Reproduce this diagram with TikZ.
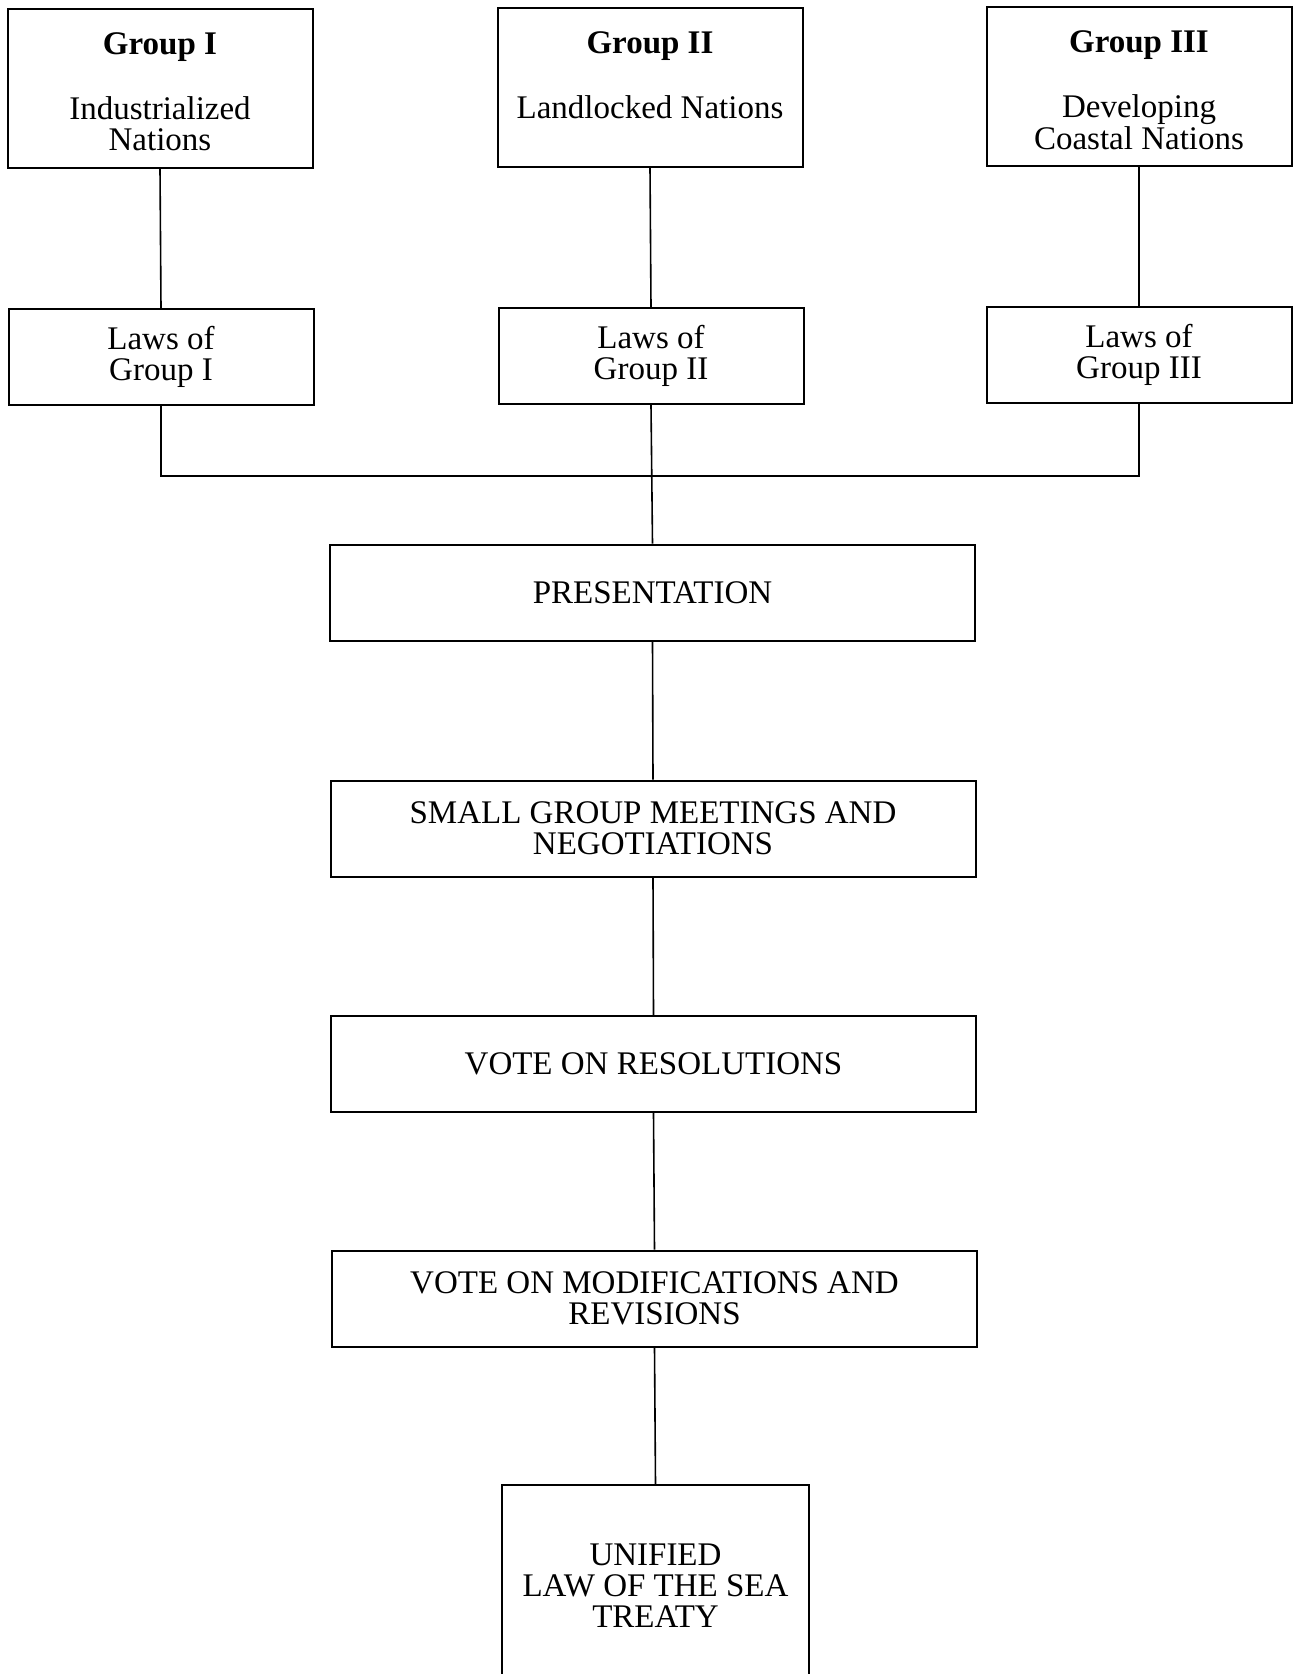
\documentclass[tikz,border=0pt]{standalone}
\usepackage{fontspec}
\setmainfont{Liberation Serif}
\newcommand{\toptext}[1]{\begin{tabular}[t]{@{}c@{}}#1\end{tabular}}

\begin{document}
\begin{tikzpicture}[x=1pt, y=-1pt,
  every node/.style={font=\fontsize{33}{31}\selectfont},
  plainbox/.style={draw, line width=2pt, inner sep=0pt, align=center},
  groupbox/.style={draw, line width=2pt, inner sep=0pt, minimum width=305pt, text height=46pt, text depth=113pt},
  lawsbox/.style={plainbox, minimum width=305pt, minimum height=96pt},
  stagebox/.style={plainbox, minimum width=645pt, minimum height=96pt},
  link/.style={line width=1.6pt}]
\useasboundingbox (0,0) rectangle (1293,1674);

% the three groups
\node[groupbox] (g1) at (160,88) {\toptext{\textbf{Group I}\\[33pt]Industrialized\\Nations}};
\node[groupbox] (g2) at (650,87) {\toptext{\textbf{Group II}\\[33pt]Landlocked Nations}};
\node[groupbox] (g3) at (1139,86) {\toptext{\textbf{Group III}\\[33pt]Developing\\Coastal Nations}};

\node[lawsbox] (l1) at (161,357) {Laws of\\Group I};
\node[lawsbox] (l2) at (651,356) {Laws of\\Group II};
\node[lawsbox] (l3) at (1139,355) {Laws of\\Group III};

% conference stages
\node[stagebox] (pres) at (652.5,592.5) {PRESENTATION};
\node[stagebox] (meet) at (653,828.5) {SMALL GROUP MEETINGS AND\\NEGOTIATIONS};
\node[stagebox] (voteres) at (653.5,1064) {VOTE ON RESOLUTIONS};
\node[stagebox] (votemod) at (654.5,1298.5) {VOTE ON MODIFICATIONS AND\\REVISIONS};
\node[plainbox, minimum width=307pt, minimum height=202pt] (treaty) at (655.5,1586)
  {UNIFIED\\LAW OF THE SEA\\TREATY};

\coordinate (bus) at (651,476);

\draw[link] (g1.south) -- (l1.north);
\draw[link] (g2.south) -- (l2.north);
\draw[link] (g3.south) -- (l3.north);
\draw[link] (l1.south) |- (bus) -| (l3.south);
\draw[link] (l2.south) -- (pres.north);
\draw[link] (pres.south) -- (meet.north);
\draw[link] (meet.south) -- (voteres.north);
\draw[link] (voteres.south) -- (votemod.north);
\draw[link] (votemod.south) -- (treaty.north);
\end{tikzpicture}
\end{document}
